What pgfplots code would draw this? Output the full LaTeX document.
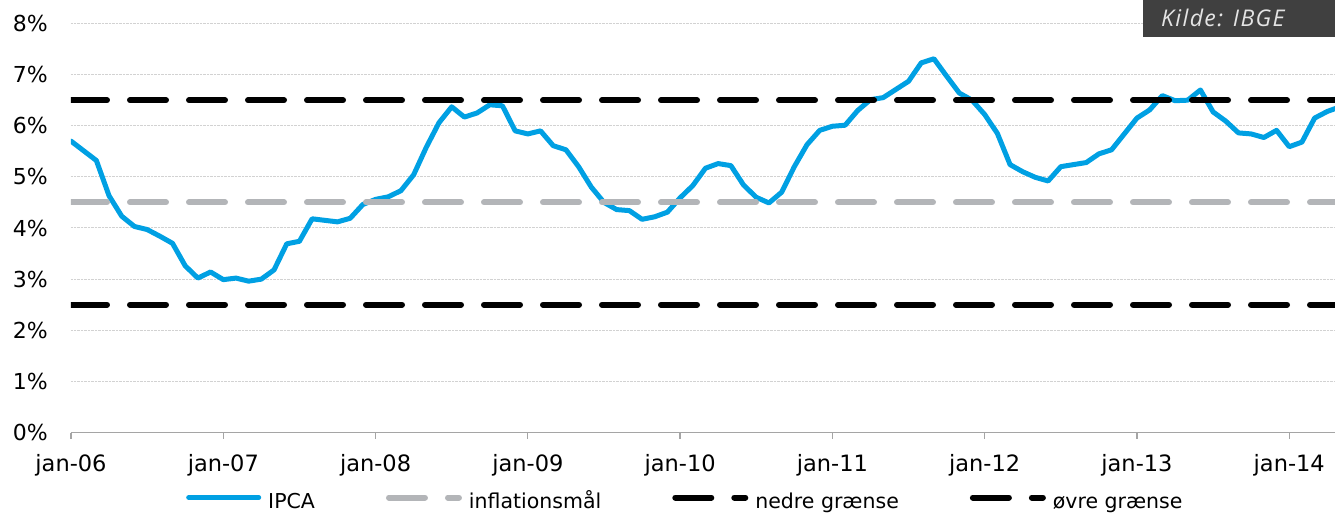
\documentclass[border=0pt]{standalone}
\usepackage{pgfplots}
\pgfplotsset{compat=1.18}
\usepackage{pgfplotstable}
\usepackage{fontspec}
\setmainfont{DejaVu Sans}
\newfontfamily\kildefont{Open Sans}[LetterSpace=6]
\definecolor{ipca}{RGB}{0,160,227}
\definecolor{maal}{RGB}{179,181,184}
\definecolor{gridc}{RGB}{210,210,210}
\definecolor{axc}{RGB}{165,165,165}
\definecolor{boxc}{RGB}{64,64,64}
\definecolor{kildec}{RGB}{228,228,228}

\pgfplotstableread{
i v
0 5.70
1 5.51
2 5.32
3 4.63
4 4.23
5 4.03
6 3.97
7 3.84
8 3.70
9 3.26
10 3.02
11 3.14
12 2.99
13 3.02
14 2.96
15 3.00
16 3.18
17 3.69
18 3.74
19 4.18
20 4.15
21 4.12
22 4.19
23 4.46
24 4.56
25 4.61
26 4.73
27 5.04
28 5.58
29 6.06
30 6.37
31 6.17
32 6.25
33 6.41
34 6.39
35 5.90
36 5.84
37 5.90
38 5.61
39 5.53
40 5.20
41 4.80
42 4.50
43 4.36
44 4.34
45 4.17
46 4.22
47 4.31
48 4.59
49 4.83
50 5.17
51 5.26
52 5.22
53 4.84
54 4.60
55 4.49
56 4.70
57 5.20
58 5.63
59 5.91
60 5.99
61 6.01
62 6.30
63 6.51
64 6.55
65 6.71
66 6.87
67 7.23
68 7.31
69 6.97
70 6.64
71 6.50
72 6.22
73 5.85
74 5.24
75 5.10
76 4.99
77 4.92
78 5.20
79 5.24
80 5.28
81 5.45
82 5.53
83 5.84
84 6.15
85 6.31
86 6.59
87 6.49
88 6.50
89 6.70
90 6.27
91 6.09
92 5.86
93 5.84
94 5.77
95 5.91
96 5.59
97 5.68
98 6.15
99 6.28
100 6.37
}\ipcadata

\begin{document}
\begin{tikzpicture}[x=1pt,y=1pt]
\begin{axis}[
  at={(0,0)}, anchor=south west,
  scale only axis, width=1264pt, height=409pt,
  xmin=0, xmax=99.6, ymin=0, ymax=8,
  axis x line*=bottom, axis y line*=left,
  x axis line style={axc, line width=1.3pt},
  y axis line style={draw=none},
  ytick={0,...,8},
  yticklabels={0\%,1\%,2\%,3\%,4\%,5\%,6\%,7\%,8\%},
  xtick={0,12,...,96},
  xticklabels={jan-06,jan-07,jan-08,jan-09,jan-10,jan-11,jan-12,jan-13,jan-14},
  ymajorgrids,
  grid style={gridc, densely dotted, line width=1pt},
  tick align=outside,
  major tick length=6pt,
  x tick style={axc, line width=1.3pt},
  y tick style={draw=none},
  yticklabel style={font=\fontsize{22}{26}\selectfont, anchor=east, inner sep=0pt, xshift=-17pt},
  xticklabel style={font=\fontsize{22.5}{26}\selectfont, anchor=north, inner sep=0pt, yshift=-16pt},
  legend columns=4,
  legend style={at={(0.0910,-0.1724)}, anchor=west, draw=none, fill=none,
    inner sep=0pt, column sep=0pt,
    font=\fontsize{20.5}{24}\selectfont,
    nodes={inner sep=0pt, text height=15pt, text depth=4pt},
    /tikz/every odd column/.append style={column sep=7pt},
    /tikz/every even column/.append style={column sep=71pt}},
  legend image code/.code={\draw[#1] (0pt,5.5pt) -- (70pt,5.5pt);},
]
\addplot[ipca, line width=5pt, line join=round, line cap=round] table[x=i, y=v] {\ipcadata};
\addlegendentry{IPCA}
\addplot[maal, line width=6pt, line cap=round, dash pattern=on 36pt off 23pt] coordinates {(0,4.5) (100,4.5)};
\addlegendentry{inflationsmål}
\addplot[black, line width=6pt, line cap=round, dash pattern=on 36pt off 23pt] coordinates {(0,2.5) (100,2.5)};
\addlegendentry{nedre grænse}
\addplot[black, line width=6pt, line cap=round, dash pattern=on 36pt off 23pt] coordinates {(0,6.5) (100,6.5)};
\addlegendentry{øvre grænse}
\end{axis}
\fill[boxc] (1072,395.8) rectangle (1264,432.5);
\node[anchor=west, inner sep=0pt, text=kildec, font=\kildefont\itshape\fontsize{23}{27}\selectfont] at (1090,414.5) {Kilde: IBGE};
\pgfresetboundingbox
\useasboundingbox (-71,-83.5) rectangle (1264,432.5);
\end{tikzpicture}
\end{document}
